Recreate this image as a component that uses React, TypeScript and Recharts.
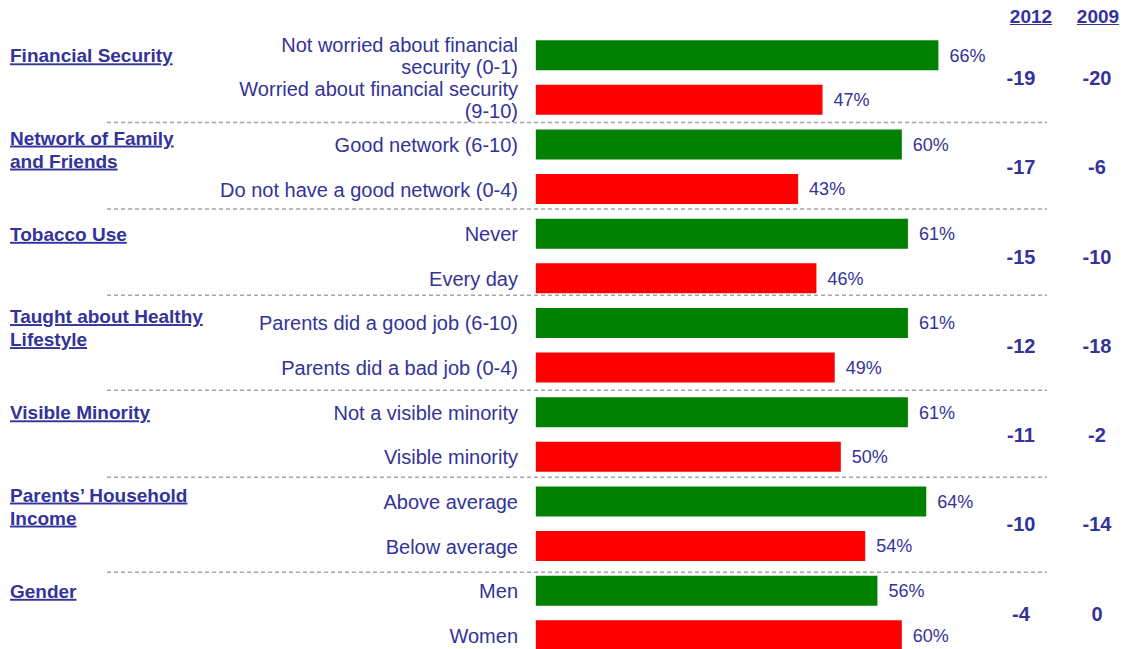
import React from "react";
import {
  BarChart,
  Bar,
  Cell,
  XAxis,
  YAxis,
  ReferenceLine,
  LabelList,
} from "recharts";

// Share of respondents per subgroup, with the gap between the two subgroups
// of each factor in 2012 and 2009.

const groups = [
  "Financial Security",
  "Network of Family\nand Friends",
  "Tobacco Use",
  "Taught about Healthy\nLifestyle",
  "Visible Minority",
  "Parents\u2019 Household\nIncome",
  "Gender",
];

const rowLabels = [
  "Not worried about financial\nsecurity (0-1)",
  "Worried about financial security\n(9-10)",
  "Good network (6-10)",
  "Do not have a good network (0-4)",
  "Never",
  "Every day",
  "Parents did a good job (6-10)",
  "Parents did a bad job (0-4)",
  "Not a visible minority",
  "Visible minority",
  "Above average",
  "Below average",
  "Men",
  "Women",
];

const shares = [66, 47, 60, 43, 61, 46, 61, 49, 61, 50, 64, 54, 56, 60];

const years = ["2012", "2009"];
const gap2012 = [-19, -17, -15, -12, -11, -10, -4];
const gap2009 = [-20, -6, -10, -18, -2, -14, 0];

// in a vertical layout the numeric y axis grows downward, so row i sits at i
const rows = rowLabels.map((label, i) => ({ pos: i, label, share: shares[i] }));
const rowTicks = rows.map((r) => r.pos);
const pairTicks = groups.map((_, g) => g * 2 + 0.5);

// divider positions between factor blocks, in row units
const DIVIDERS = [1.5, 3.44, 5.37, 7.5, 9.45, 11.58];

const W = 1129;
const H = 649;
const Y_DOMAIN: [number, number] = [-0.5, 13.3];
const X_MIN = -70.3;
const X_MAX = 83.8;
const TOP = 33.2;

const INK = "#333399";
const FONT = "'Liberation Sans', Arial, sans-serif";
const GREEN = "#008000";
const RED = "#ff0000";

function RowTick(props: any) {
  const { y, payload } = props;
  const i = Math.round(payload.value);
  const text = rowLabels[i];
  if (text === undefined) return <g />;
  const lines = text.split("\n");
  const lineGap = 22;
  const first = y - ((lines.length - 1) * lineGap) / 2;
  const heading = i % 2 === 0 ? groups[i / 2].split("\n") : null;
  return (
    <g>
      <text textAnchor="end" fill={INK} fontFamily={FONT} fontSize={20}>
        {lines.map((ln, k) => (
          <tspan key={k} x={518} y={first + k * lineGap} dy="0.36em">
            {ln}
          </tspan>
        ))}
      </text>
      {heading && (
        <text
          fill={INK}
          fontFamily={FONT}
          fontSize={19}
          fontWeight="bold"
          style={{ textDecoration: "underline" }}
        >
          {heading.map((ln, k) => (
            <tspan
              key={k}
              x={10}
              y={heading.length > 1 ? y - 7 + k * 23 : y}
              dy="0.36em"
            >
              {ln}
            </tspan>
          ))}
        </text>
      )}
    </g>
  );
}

function GapTick(props: any) {
  const { y, payload } = props;
  const g = Math.round((payload.value - 0.5) / 2);
  if (gap2012[g] === undefined) return <g />;
  const style = {
    fill: INK,
    fontFamily: FONT,
    fontSize: 20,
    fontWeight: "bold" as const,
  };
  return (
    <g>
      <text x={1021} y={y} dy="0.36em" textAnchor="middle" {...style}>
        {gap2012[g]}
      </text>
      <text x={1097} y={y} dy="0.36em" textAnchor="middle" {...style}>
        {gap2009[g]}
      </text>
    </g>
  );
}

export default function App() {
  return (
    <div
      style={{
        position: "absolute",
        left: 0,
        top: 0,
        width: W,
        height: H,
        overflow: "hidden",
        background: "#fff",
      }}
    >
      <BarChart
        width={W}
        height={H}
        data={rows}
        layout="vertical"
        margin={{ top: TOP, right: W - 1047 - 1, bottom: 0, left: 107 - 1 }}
      >
        <XAxis
          type="number"
          dataKey="share"
          domain={[X_MIN, X_MAX]}
          allowDataOverflow
          hide
        />
        <YAxis
          type="number"
          dataKey="pos"
          domain={Y_DOMAIN}
          allowDataOverflow
          ticks={rowTicks}
          interval={0}
          width={1}
          axisLine={false}
          tickLine={false}
          tick={(p: any) => <RowTick {...p} />}
        />
        <YAxis
          yAxisId="gap"
          orientation="right"
          type="number"
          dataKey="pos"
          domain={Y_DOMAIN}
          allowDataOverflow
          ticks={pairTicks}
          interval={0}
          width={1}
          axisLine={false}
          tickLine={false}
          tick={(p: any) => <GapTick {...p} />}
        />
        {DIVIDERS.map((d) => (
          <ReferenceLine
            key={d}
            y={d}
            stroke="#a6a6a6"
            strokeWidth={1.5}
            strokeDasharray="4 3"
          />
        ))}
        <Bar dataKey="share" barSize={30} isAnimationActive={false}>
          {rows.map((r) => (
            <Cell key={r.pos} fill={r.pos % 2 === 0 ? GREEN : RED} />
          ))}
          <LabelList
            dataKey="share"
            position="right"
            offset={11}
            formatter={(v: any) => `${v}%`}
            fill={INK}
            fontFamily={FONT}
            fontSize={18}
          />
        </Bar>
      </BarChart>
      {years.map((yr, k) => (
        <div
          key={yr}
          style={{
            position: "absolute",
            top: 6,
            left: k === 0 ? 1009 : 1076,
            width: 44,
            textAlign: "center",
            color: INK,
            fontFamily: FONT,
            fontSize: 19,
            fontWeight: "bold",
            textDecoration: "underline",
            lineHeight: "22px",
          }}
        >
          {yr}
        </div>
      ))}
    </div>
  );
}
